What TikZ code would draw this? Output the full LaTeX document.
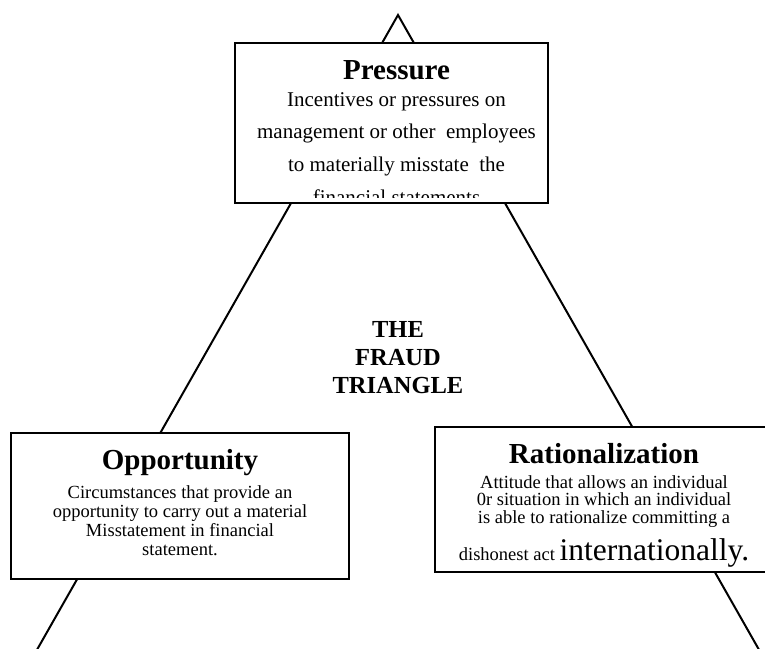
\documentclass[tikz,border=0pt]{standalone}
\usepackage{fontspec}
\setmainfont{Liberation Serif}
\begin{document}
\begin{tikzpicture}[x=1pt,y=-1pt,
  side/.style={line width=2pt},
  box/.style={draw=black, fill=white, line width=2.2pt, inner sep=0pt},
  heading/.style={font=\fontsize{29}{32}\selectfont\bfseries, anchor=base, inner sep=0pt},
  bodytext/.style={align=center, anchor=base, inner sep=0pt}]
\useasboundingbox (0,0) rectangle (765,648);

% sides of the triangle
\coordinate (apex) at (398,15);
\coordinate (leftfoot) at (34,655);
\coordinate (rightfoot) at (762,655);
\draw[side, line join=miter] (leftfoot) -- (apex) -- (rightfoot);

% the three corner boxes
\node[box, minimum width=313pt, minimum height=160pt] (pbox) at (391.5,123) {};
\node[box, minimum width=338pt, minimum height=146pt] (obox) at (180,506) {};
\node[box, minimum width=345pt, minimum height=145pt] (rbox) at (607.5,499.5) {};

% Pressure (base anchor sits on the last line)
\node[heading] (ptitle) at (396.5,79) {Pressure};
\begin{scope}
  \clip (236,44) rectangle (547,197);
  \node[bodytext, font=\fontsize{21}{32.8}\selectfont] (ptext) at (396.5,204.5)
    {Incentives or pressures on\\management or other\ \ employees\\to materially misstate\ \ the\\financial statements};
\end{scope}

% Opportunity
\node[heading] (otitle) at (180,469) {Opportunity};
\node[bodytext, font=\fontsize{18.5}{18.7}\selectfont] (otext) at (180,555)
  {Circumstances that provide an\\opportunity to carry out a material\\Misstatement in financial\\statement.};

% Rationalization
\node[heading] (rtitle) at (604,463) {Rationalization};
\node[bodytext, font=\fontsize{18.5}{17.5}\selectfont] (rtext) at (604,523)
  {Attitude that allows an individual\\0r situation in which an individual\\is able to rationalize committing a};
\node[bodytext, font=\fontsize{18.5}{20}\selectfont] (rlast) at (604,560)
  {dishonest act {\fontsize{31.5}{34}\selectfont internationally.}};

% centre caption
\node[bodytext, font=\fontsize{24.5}{28}\selectfont\bfseries] (caption) at (398,393)
  {THE\\FRAUD\\TRIANGLE};
\end{tikzpicture}
\end{document}
